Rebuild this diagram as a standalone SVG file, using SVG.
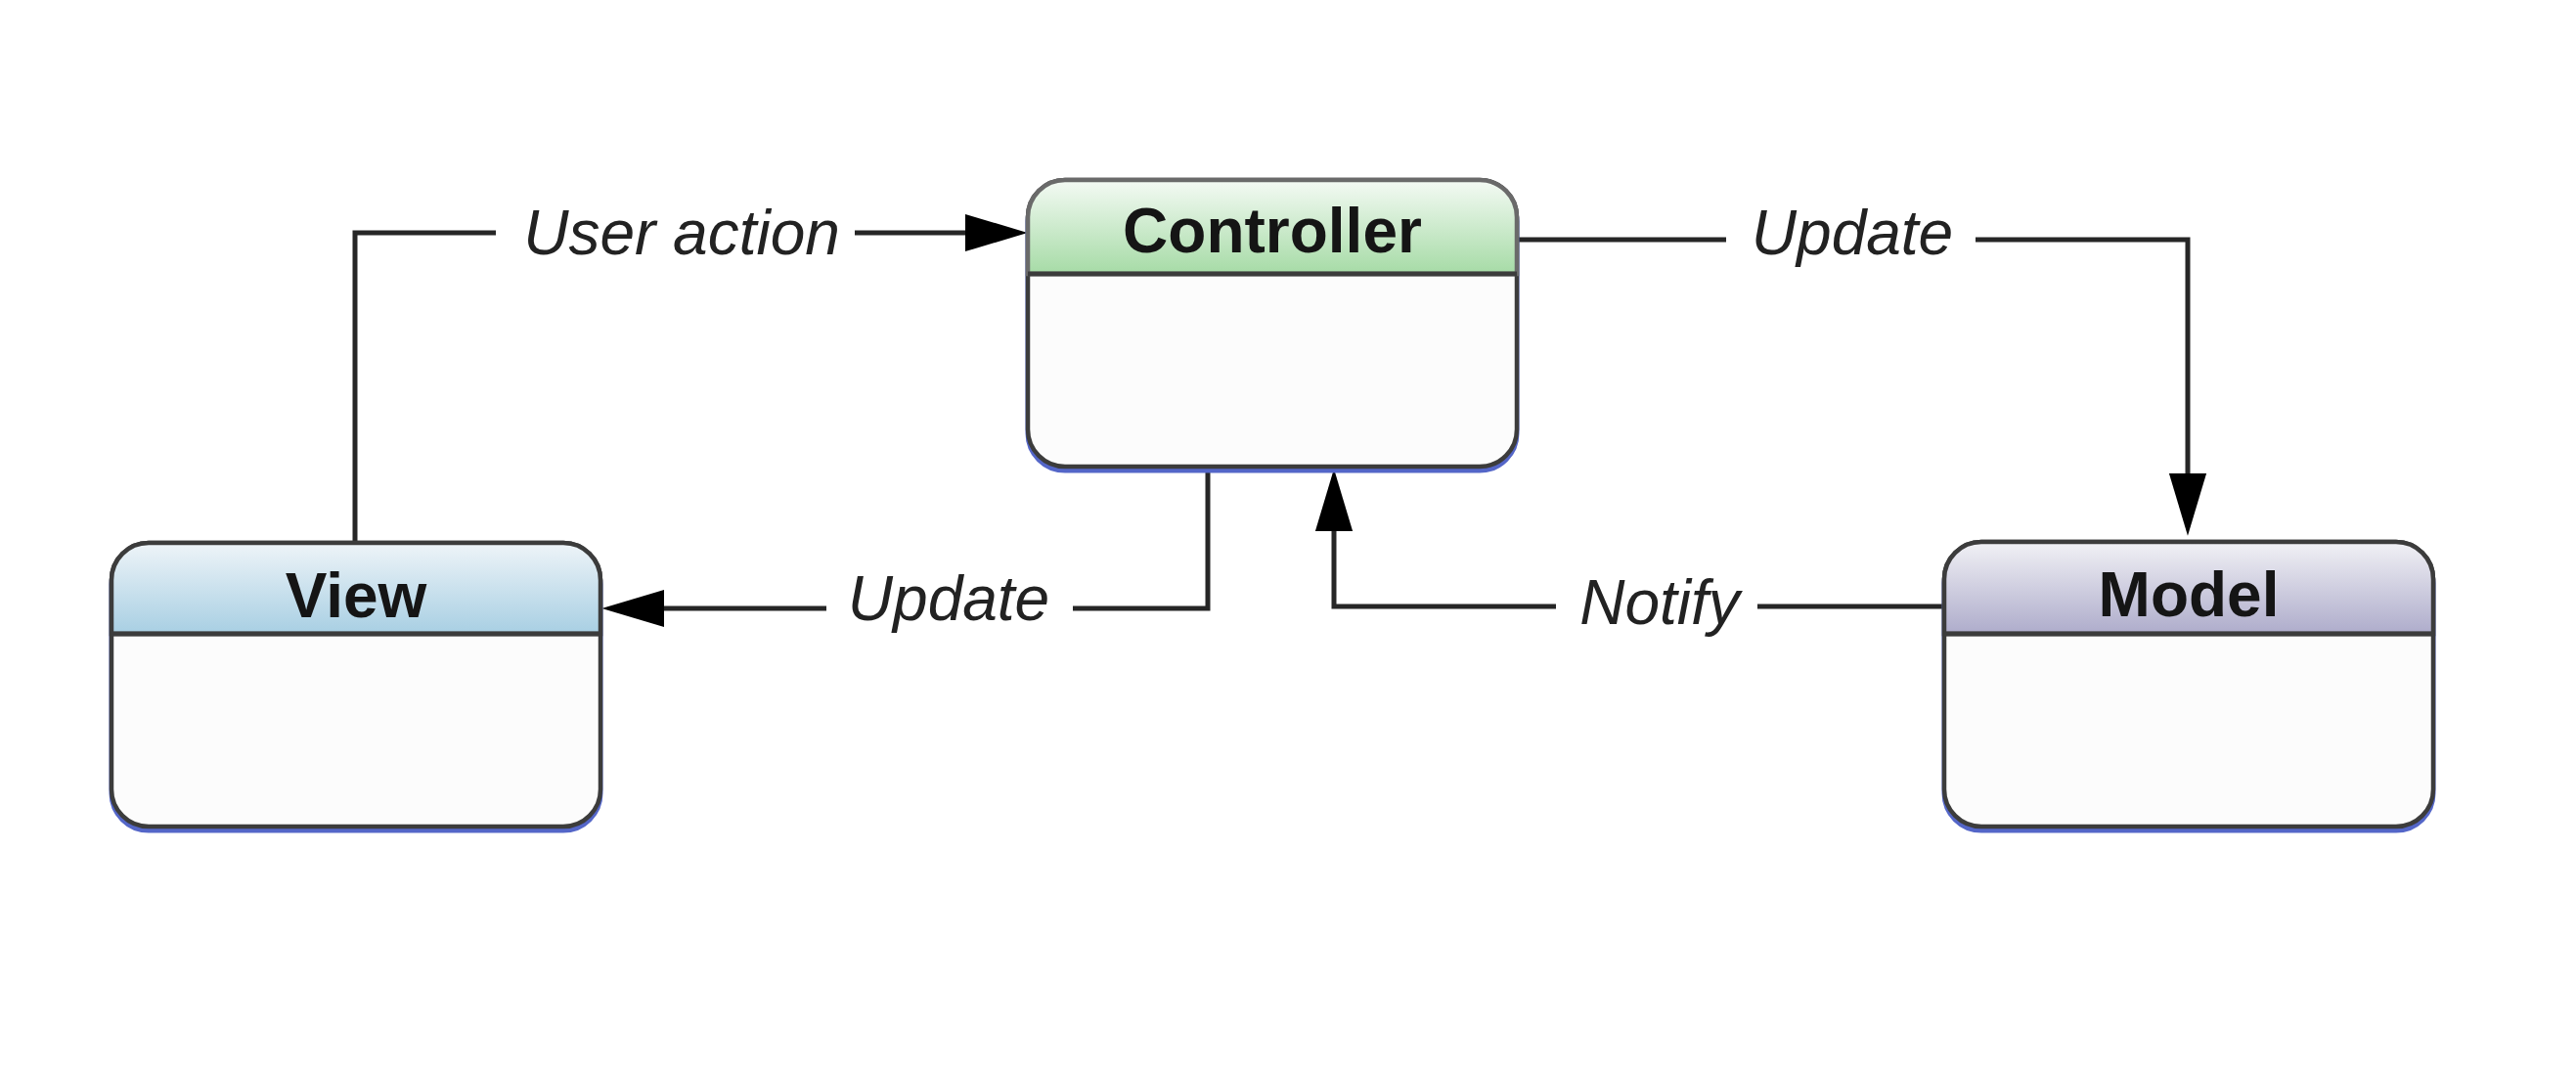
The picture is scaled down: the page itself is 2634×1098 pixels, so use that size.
<svg xmlns="http://www.w3.org/2000/svg" width="2634" height="1098" viewBox="0 0 2634 1098">
<style>
.box{fill:#fcfcfc;stroke:#3c3c3c;stroke-width:4.5}
.shadow{fill:none;stroke:#5466c8;stroke-width:5}
.div{stroke:#3c3c3c;stroke-width:5}
.hdrtxt{font-family:"Liberation Sans",Arial,sans-serif;font-weight:bold;font-size:64px;fill:#151515;text-anchor:middle}
.lbl{font-family:"Liberation Sans",Arial,sans-serif;font-style:italic;font-size:64px;fill:#222;text-anchor:middle}
.conn{fill:none;stroke:#262626;stroke-width:5}
</style>
<defs>
<linearGradient id="gC" x1="0" y1="0" x2="0" y2="1"><stop offset="0" stop-color="#f4faf4"/><stop offset="1" stop-color="#a6dba6"/></linearGradient>
<linearGradient id="gV" x1="0" y1="0" x2="0" y2="1"><stop offset="0" stop-color="#eef4f8"/><stop offset="1" stop-color="#a8cfe3"/></linearGradient>
<linearGradient id="gM" x1="0" y1="0" x2="0" y2="1"><stop offset="0" stop-color="#f1f1f5"/><stop offset="1" stop-color="#aeaccb"/></linearGradient>
<marker id="arr" markerUnits="userSpaceOnUse" markerWidth="64" markerHeight="40" viewBox="0 0 60 36" refX="50" refY="18" orient="auto">
<path d="M0,0 L60,18 L0,36 Z" fill="#000"/>
</marker>
</defs>
<rect width="2634" height="1098" fill="#ffffff"/>

<g id="connectors">
<path class="conn" d="M363,555 V238 H507"/>
<path class="conn" d="M874,238 H1040" marker-end="url(#arr)"/>
<text class="lbl" x="697" y="260">User action</text>

<path class="conn" d="M1551,245 H1765"/>
<path class="conn" d="M2020,245 H2237 V537" marker-end="url(#arr)"/>
<text class="lbl" x="1894" y="260">Update</text>

<path class="conn" d="M1235,480 V622 H1097"/>
<path class="conn" d="M845,622 H626" marker-end="url(#arr)"/>
<text class="lbl" x="970" y="634">Update</text>

<path class="conn" d="M1988,620 H1797"/>
<path class="conn" d="M1591,620 H1364 V490" marker-end="url(#arr)"/>
<text class="lbl" x="1697" y="638">Notify</text>
</g>

<g id="controller">
<rect class="shadow" x="1051" y="188" width="500" height="293" rx="38"/>
<rect class="box" x="1051" y="184" width="500" height="293" rx="38"/>
<path d="M1051,280 V222 A38,38 0 0 1 1089,184 H1513 A38,38 0 0 1 1551,222 V280 Z" fill="url(#gC)" stroke="#6a6a6a" stroke-width="4.5"/>
<line class="div" x1="1051" y1="280" x2="1551" y2="280"/>
<text class="hdrtxt" x="1301" y="258">Controller</text>
</g>

<g id="view">
<rect class="shadow" x="114" y="559" width="500" height="290" rx="38"/>
<rect class="box" x="114" y="555" width="500" height="290" rx="38"/>
<path d="M114,648 V593 A38,38 0 0 1 152,555 H576 A38,38 0 0 1 614,593 V648 Z" fill="url(#gV)" stroke="#3c3c3c" stroke-width="4.5"/>
<line class="div" x1="114" y1="648" x2="614" y2="648"/>
<text class="hdrtxt" x="364" y="631">View</text>
</g>

<g id="model">
<rect class="shadow" x="1988" y="558" width="500" height="291" rx="38"/>
<rect class="box" x="1988" y="554" width="500" height="291" rx="38"/>
<path d="M1988,648 V592 A38,38 0 0 1 2026,554 H2450 A38,38 0 0 1 2488,592 V648 Z" fill="url(#gM)" stroke="#3c3c3c" stroke-width="4.5"/>
<line class="div" x1="1988" y1="648" x2="2488" y2="648"/>
<text class="hdrtxt" x="2238" y="630">Model</text>
</g>
</svg>
